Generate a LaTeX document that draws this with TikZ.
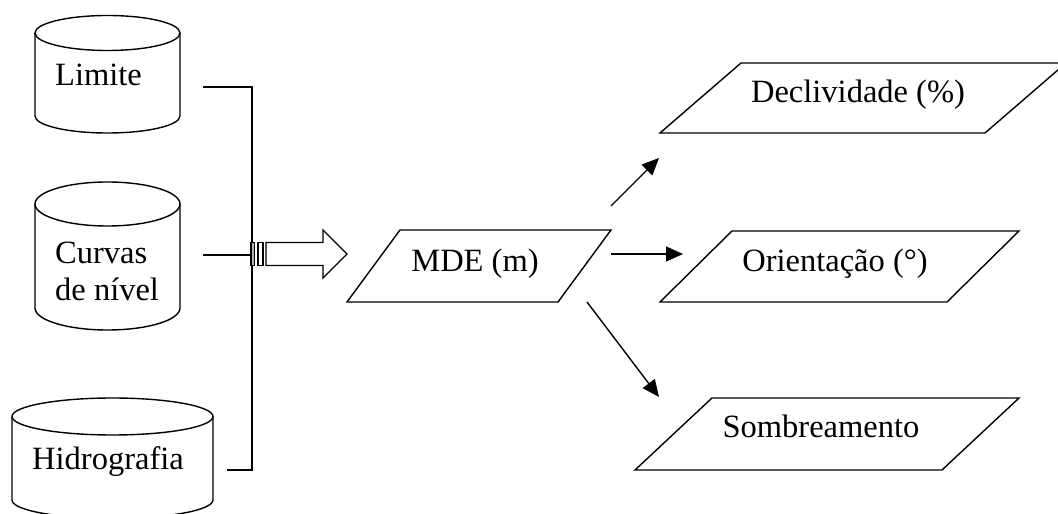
\documentclass[tikz,border=0pt]{standalone}
\usepackage{fontspec}
\setmainfont{Liberation Serif}
\usetikzlibrary{arrows.meta}
\tikzset{
  outline/.style={draw=black, line width=1.4pt, line join=miter},
  label/.style={inner sep=0pt, font=\fontsize{32.5}{37}\selectfont},
  link/.style={draw=black, line width=1.4pt},
  flow/.style={draw=black, line width=1.4pt, -{Triangle[length=17pt,width=15pt]}},
}
\begin{document}
\begin{tikzpicture}[x=1pt, y=1pt]
\useasboundingbox (0,0) rectangle (1058,514);

% ---- input layers (cylinders) ----
% Limite
\draw[outline, fill=white] (35,481) -- (35,398)
  arc[start angle=180, end angle=360, x radius=72.5, y radius=17] -- (180,481);
\draw[outline] (107.5,481) ellipse[x radius=72.5, y radius=17.5];
\node[label, anchor=base west] (limite) at (55,428) {Limite};

% Curvas de nivel
\draw[outline, fill=white] (35,310) -- (35,206)
  arc[start angle=180, end angle=360, x radius=72.5, y radius=22] -- (180,310);
\draw[outline] (107.5,310) ellipse[x radius=72.5, y radius=22];
\node[label, anchor=west, align=left] (curvas) at (55,243) {Curvas\\de nível};

% Hidrografia
\draw[outline, fill=white] (12,97.5) -- (12,14)
  arc[start angle=180, end angle=360, x radius=100.5, y radius=18.5] -- (213,97.5);
\draw[outline] (112.5,97.5) ellipse[x radius=100.5, y radius=18.5];
\node[label, anchor=base west] (hidro) at (32,44) {Hidrografia};

% ---- collector lines ----
\coordinate (limOut) at (203,427);
\coordinate (curOut) at (203,259);
\coordinate (hidOut) at (227,44);
\coordinate (busTop) at (252,427);
\coordinate (busMid) at (252,259);
\coordinate (busBot) at (252,44);
\draw[link] (limOut) -- (busTop) -- (busBot) -- (hidOut);
\draw[link] (curOut) -- (busMid);

% ---- striped block arrow ----
\draw[outline, fill=gray!60] (251,248.5) rectangle (254.5,271.5);
\draw[outline, fill=white] (258,248.5) rectangle (263,271.5);
\draw[outline, fill=white] (266,248.5) -- (323,248.5) -- (323,236) -- (347,260)
  -- (323,284) -- (323,271.5) -- (266,271.5) -- cycle;

% ---- MDE ----
\draw[outline] (400,284) -- (611,284) -- (558,212) -- (347,212) -- cycle;
\node[label, anchor=base] (mde) at (475,242) {MDE (m)};

% ---- outputs ----
\draw[outline] (741,451) -- (1066,451) -- (985,381) -- (660,381) -- cycle;
\node[label, anchor=base] (decl) at (858,411) {Declividade (\%)};

\draw[outline] (732,283) -- (1019,283) -- (947,212) -- (660,212) -- cycle;
\node[label, anchor=base] (orient) at (835,242) {Orientação (°)};

\draw[outline] (712,116) -- (1019,116) -- (942,44) -- (635,44) -- cycle;
\node[label, anchor=base] (sombra) at (821,76) {Sombreamento};

% ---- derivation arrows ----
\coordinate (aUpS) at (611,308);
\coordinate (aUpE) at (659,356);
\coordinate (aMidS) at (611,260);
\coordinate (aMidE) at (683,260);
\coordinate (aDnS) at (587,212);
\coordinate (aDnE) at (659,117);
\draw[flow] (aUpS) -- (aUpE);
\draw[flow] (aMidS) -- (aMidE);
\draw[flow] (aDnS) -- (aDnE);
\end{tikzpicture}
\end{document}
